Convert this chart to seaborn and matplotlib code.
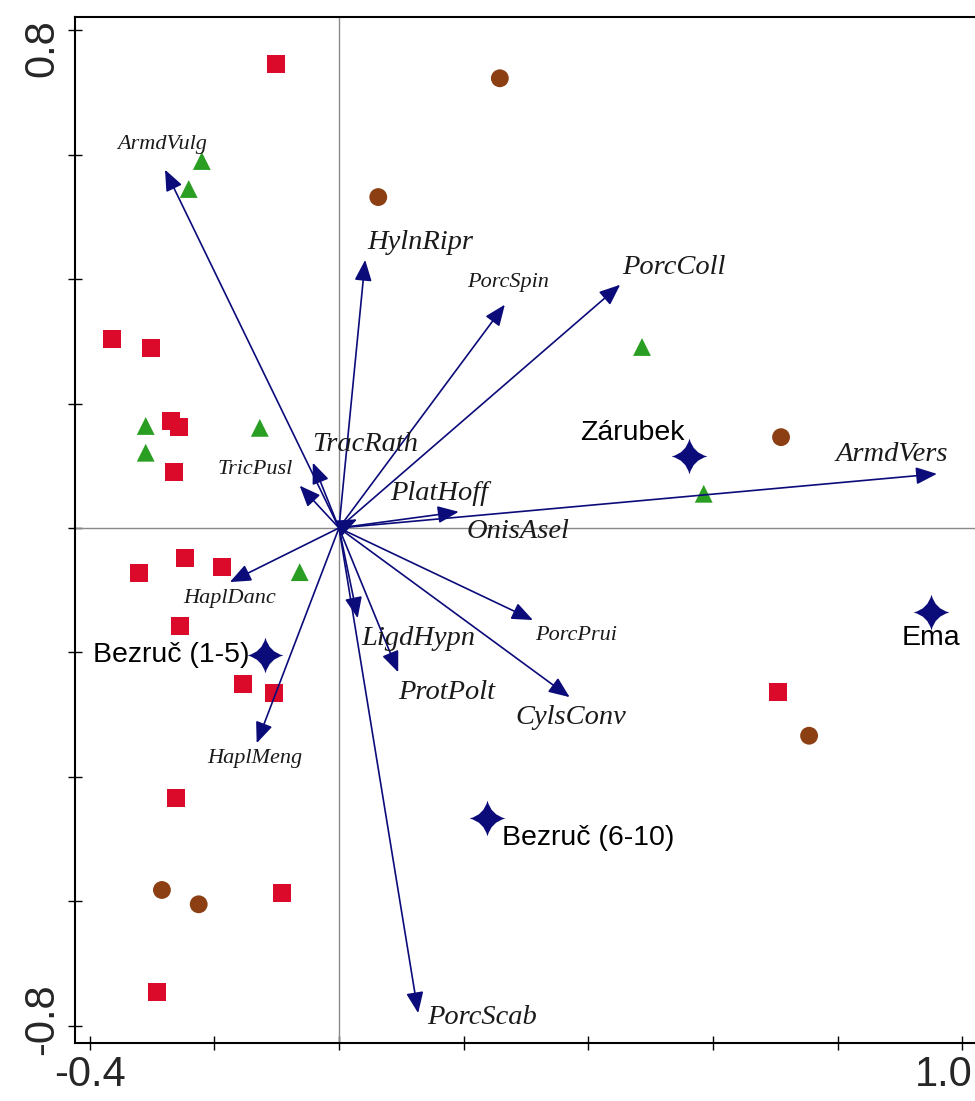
import numpy as np
import pandas as pd
import matplotlib
matplotlib.use("Agg")
import matplotlib.pyplot as plt
from matplotlib.path import Path
from matplotlib.transforms import ScaledTranslation
import seaborn as sns

# ---- ordination scores (axis 1, axis 2) ----
# species response arrows
species = ["ArmdVulg", "HylnRipr", "PorcSpin", "PorcColl", "TracRath", "TricPusl",
           "PlatHoff", "OnisAsel", "ArmdVers", "HaplDanc", "HaplMeng", "LigdHypn",
           "ProtPolt", "PorcPrui", "CylsConv", "PorcScab"]
species_ax1 = [-0.279, 0.042, 0.266, 0.451, -0.042, -0.063,
               0.029, 0.192, 0.959, -0.175, -0.132, 0.030,
               0.095, 0.311, 0.370, 0.127]
species_ax2 = [0.576, 0.431, 0.359, 0.391, 0.105, 0.068,
               0.014, 0.026, 0.087, -0.087, -0.346, -0.145,
               -0.232, -0.148, -0.272, -0.780]

# sites (supplementary centroids)
sites = ["Zárubek", "Ema", "Bezruč (1-5)", "Bezruč (6-10)"]
site_ax1 = [0.561, 0.949, -0.119, 0.237]
site_ax2 = [0.116, -0.135, -0.204, -0.466]

# samples, three habitat groups
square_ax1 = [-0.101, -0.364, -0.302, -0.269, -0.257, -0.265, -0.321, -0.247,
              -0.188, -0.255, -0.154, -0.104, -0.261, -0.091, -0.292, 0.704]
square_ax2 = [0.746, 0.304, 0.289, 0.172, 0.162, 0.090, -0.072, -0.048,
              -0.063, -0.158, -0.251, -0.265, -0.434, -0.587, -0.746, -0.264]
triangle_ax1 = [-0.220, -0.241, -0.310, -0.310, -0.127, -0.063, 0.486, 0.585]
triangle_ax2 = [0.590, 0.545, 0.164, 0.121, 0.161, -0.071, 0.291, 0.055]
circle_ax1 = [0.258, 0.063, 0.709, 0.754, -0.284, -0.225]
circle_ax2 = [0.723, 0.532, 0.146, -0.334, -0.582, -0.605]

x_tick_labels = ["-0.4", "", "", "", "", "", "", "1.0"]
y_tick_labels = ["-0.8", "", "", "", "", "", "", "", "0.8"]

# ---- styling ----
NAVY = "#0b0b7a"
small_labels = {"ArmdVulg", "PorcSpin", "TricPusl", "HaplDanc", "HaplMeng", "PorcPrui"}
# label placement: (ha, dx px, dy px) relative to arrow tip
species_label_pos = {
    "ArmdVulg": ("center", -3, 25), "HylnRipr": ("left", 2, 17),
    "PorcSpin": ("center", 3, 22), "PorcColl": ("left", 2, 17),
    "TracRath": ("left", -1, 18), "TricPusl": ("right", -7, 16),
    "PlatHoff": ("left", 33, 26), "OnisAsel": ("left", 8, -20),
    "ArmdVers": ("right", 11, 19), "HaplDanc": ("center", 0, -16),
    "HaplMeng": ("center", -2, -15), "LigdHypn": ("left", 4, -20),
    "ProtPolt": ("left", 0, -20), "PorcPrui": ("left", 2, -15),
    "CylsConv": ("center", 1, -20), "PorcScab": ("left", 9, -4),
}
site_label_pos = {
    "Zárubek": ("right", -4, 23), "Ema": ("center", 0, -26),
    "Bezruč (1-5)": ("right", -15, 0), "Bezruč (6-10)": ("left", 15, -20),
}
PX = 0.72  # pixels -> points at 100 dpi


def four_point_star(waist=0.2):
    """Four-pointed star with concave, curved sides."""
    tips = [(0, 1), (1, 0), (0, -1), (-1, 0), (0, 1)]
    ctrl = [(waist, waist), (waist, -waist), (-waist, -waist), (-waist, waist)]
    verts = [tips[0]]
    codes = [Path.MOVETO]
    for c, t in zip(ctrl, tips[1:]):
        verts += [c, t]
        codes += [Path.CURVE3, Path.CURVE3]
    verts.append(tips[0])
    codes.append(Path.CLOSEPOLY)
    return Path(verts, codes)


sns.set_style("white")
plt.rcParams["font.family"] = ["Liberation Sans", "DejaVu Sans"]

fig = plt.figure(figsize=(9.75, 11.01), dpi=100)
ax = fig.add_axes([75 / 975, 58 / 1101, (977 - 75) / 975, (1043 - 17) / 1101])
ax.set_xlim(-0.4234, 1.0233)
ax.set_ylim(-0.828, 0.8215)

# axis cross-hairs through the origin
ax.axhline(0, color="#8a8a8a", lw=1.0, zorder=1)
ax.axvline(0, color="#8a8a8a", lw=1.0, zorder=1)

# samples
samples = pd.DataFrame({
    "ax1": square_ax1 + triangle_ax1 + circle_ax1,
    "ax2": square_ax2 + triangle_ax2 + circle_ax2,
    "group": ["square"] * len(square_ax1) + ["triangle"] * len(triangle_ax1)
             + ["circle"] * len(circle_ax1),
})
sns.scatterplot(data=samples, x="ax1", y="ax2", hue="group", style="group",
                palette={"square": "#dc0a2a", "triangle": "#2a9e22", "circle": "#8b3f12"},
                markers={"square": "s", "triangle": "^", "circle": "o"},
                s=165, linewidth=0, legend=False, ax=ax, zorder=2)

# species arrows
for name, x, y in zip(species, species_ax1, species_ax2):
    ax.annotate("", xy=(x, y), xytext=(0, 0),
                arrowprops=dict(arrowstyle="-|>,head_length=0.8,head_width=0.33",
                                mutation_scale=16, color=NAVY, lw=1.2,
                                shrinkA=0, shrinkB=0), zorder=3)
    ha, dx, dy = species_label_pos[name]
    ax.annotate(name, xy=(x, y), xytext=(dx * PX, dy * PX), textcoords="offset points",
                ha=ha, va="center", fontstyle="italic",
                family=["Liberation Serif", "DejaVu Serif"],
                fontsize=16 if name in small_labels else 20.5,
                color="#1a1a1a", zorder=5)

# site centroids as four-pointed stars
sns.scatterplot(x=site_ax1, y=site_ax2, marker=four_point_star(), s=660, color=NAVY,
                linewidth=0, legend=False, ax=ax, zorder=4)
for name, x, y in zip(sites, site_ax1, site_ax2):
    ha, dx, dy = site_label_pos[name]
    ax.annotate(name, xy=(x, y), xytext=(dx * PX, dy * PX), textcoords="offset points",
                ha=ha, va="center", fontsize=20.5, color="black", zorder=5)

# axes frame and ticks
ax.set_xticks(np.round(np.arange(-0.4, 1.001, 0.2), 1))
ax.set_xticklabels(x_tick_labels)
ax.set_yticks(np.round(np.arange(-0.8, 0.801, 0.2), 1))
ax.set_yticklabels(y_tick_labels, rotation=90, va="center")
ax.tick_params(direction="inout", length=10, width=1.0, color="black",
               labelsize=30, pad=4, left=True, bottom=True)
ax.set_xlabel("")
ax.set_ylabel("")
for side in ["left", "bottom", "top", "right"]:
    ax.spines[side].set_color("black")
    ax.spines[side].set_linewidth(1.5)

# keep the end labels inside the figure
yl = ax.get_yticklabels()
yl[-1].set_transform(yl[-1].get_transform() + ScaledTranslation(0, -18 / 100, fig.dpi_scale_trans))
yl[0].set_transform(yl[0].get_transform() + ScaledTranslation(0, 6 / 100, fig.dpi_scale_trans))
xl = ax.get_xticklabels()
xl[-1].set_transform(xl[-1].get_transform() + ScaledTranslation(-19 / 100, 0, fig.dpi_scale_trans))

fig.savefig("out.png", dpi=100, facecolor="white")
